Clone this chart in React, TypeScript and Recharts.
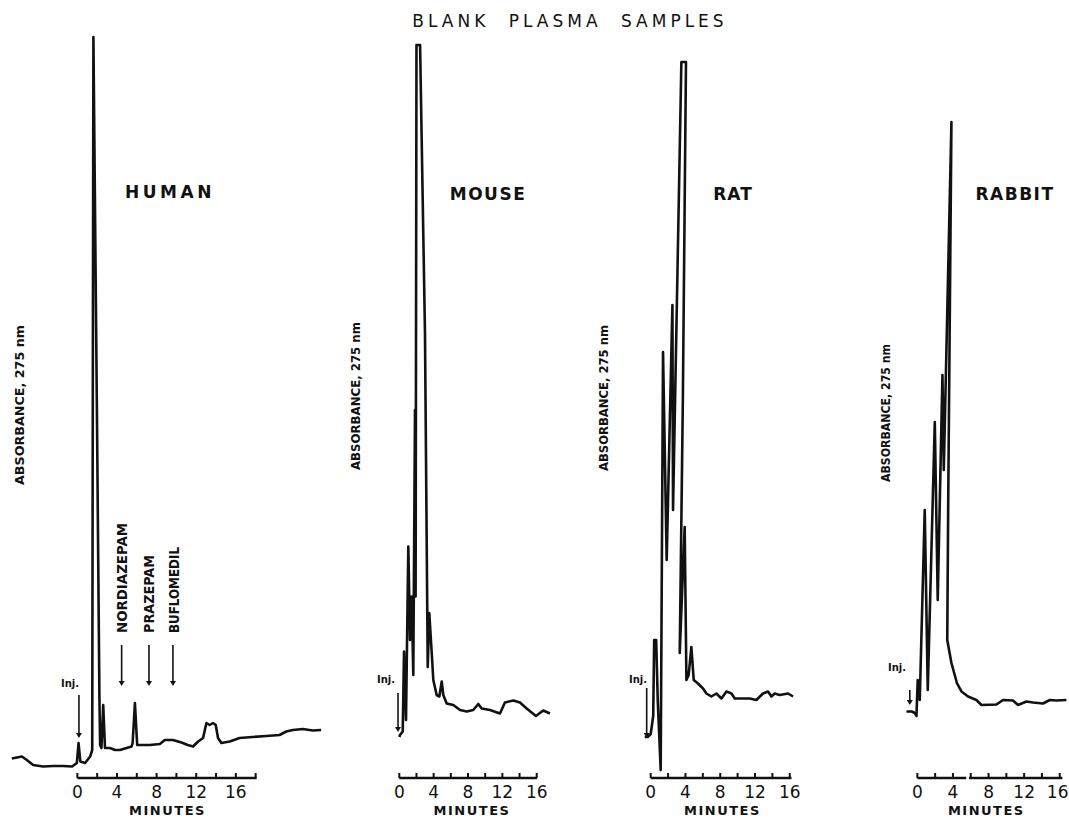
import React from 'react';
import { LineChart, Line, XAxis, YAxis, ReferenceLine, ReferenceDot } from 'recharts';

// retention time (min) and detector response (arbitrary units, 0 = time axis)
const humanMin = [-6.61, -5.6, -5.1, -4.46, -3.46, -2.45, -1.44, -0.53, -0.05, 0.12, 0.3, 0.78, 1.29, 1.5, 1.62, 1.98, 2.23, 2.3, 2.43, 2.61, 2.79, 3.29, 3.8, 4.3, 4.97, 5.48, 5.58, 5.81, 6.04, 6.31, 7.32, 8.33, 8.83, 9.64, 10.51, 11.15, 11.68, 12.19, 12.69, 13.03, 13.36, 13.7, 13.97, 14.2, 14.54, 15.38, 16.38, 17.69, 19.07, 20.41, 21.09, 21.75, 22.76, 23.77, 24.61];
const humanAbs = [3.9, 4.3, 3.6, 2.6, 2.3, 2.4, 2.4, 2.3, 3.0, 7.0, 3.3, 3.0, 4.3, 5.6, 148.2, 72.2, 15.6, 6.6, 6.0, 14.6, 6.0, 6.0, 5.6, 5.6, 6.0, 6.3, 7.0, 15.0, 6.6, 6.6, 6.6, 6.8, 7.6, 7.6, 7.1, 6.6, 6.3, 7.3, 8.0, 11.0, 10.6, 11.0, 10.6, 8.0, 7.0, 7.3, 8.0, 8.2, 8.4, 8.6, 9.3, 9.6, 9.8, 9.5, 9.6];

const mouseMin = [0.0, 0.08, 0.4, 0.55, 0.78, 1.05, 1.25, 1.44, 1.63, 1.83, 1.9, 2.0, 2.42, 2.99, 3.31, 3.49, 3.79, 3.96, 4.35, 4.66, 4.94, 5.12, 5.52, 6.29, 7.07, 7.85, 8.61, 9.2, 9.59, 10.56, 11.72, 12.3, 13.27, 14.05, 14.83, 15.91, 16.76, 17.54];
const mouseAbs = [8.2, 8.6, 9.3, 25.3, 11.6, 46.3, 27.6, 36.3, 20.6, 73.6, 36.3, 146.6, 146.6, 89.0, 22.2, 33.0, 24.6, 19.6, 16.6, 16.3, 19.3, 16.6, 14.9, 14.6, 13.6, 13.3, 13.6, 14.8, 13.9, 13.6, 12.9, 15.1, 15.5, 15.1, 13.9, 12.4, 13.5, 12.9];

const ratMin = [-0.69, -0.35, 0.0, 0.29, 0.4, 0.63, 0.81, 1.15, 1.42, 1.84, 2.5, 2.57, 3.53, 4.06, 3.7, 3.34, 3.91, 4.11, 4.37, 4.68, 4.95, 5.44, 6.02, 6.41, 6.98, 7.56, 8.14, 8.71, 9.29, 9.67, 10.24, 11.39, 12.16, 12.92, 13.5, 13.89, 14.27, 14.84, 15.8, 16.38];
const ratAbs = [8.2, 8.2, 8.8, 12.4, 27.6, 27.6, 15.6, 1.6, 85.2, 43.6, 94.6, 53.6, 143.2, 143.2, 75.6, 25.0, 50.2, 19.6, 20.6, 26.2, 19.6, 18.9, 17.9, 16.9, 16.3, 16.9, 15.9, 17.3, 16.9, 15.9, 15.9, 15.9, 15.6, 16.9, 17.3, 16.3, 16.9, 16.6, 16.9, 16.3];

const rabbitMin = [-1.22, -0.63, -0.29, -0.1, 0.04, 0.27, 0.83, 1.17, 1.96, 2.29, 2.82, 2.97, 3.83, 3.47, 3.36, 3.83, 4.2, 4.46, 4.96, 5.7, 6.64, 7.2, 8.89, 9.63, 10.75, 11.31, 12.26, 13.0, 14.12, 14.88, 15.63, 16.75];
const rabbitAbs = [13.3, 13.3, 13.0, 12.4, 19.6, 15.6, 53.6, 17.6, 71.2, 35.6, 80.6, 61.6, 131.2, 55.6, 27.6, 23.0, 20.6, 18.9, 17.3, 16.3, 15.6, 14.6, 14.7, 15.6, 15.5, 14.6, 15.3, 15.1, 14.9, 15.6, 15.5, 15.6];

const humanTicks = [0, 2, 4, 6, 8, 10, 12, 14, 16, 18];
const minuteTicks = [0, 2, 4, 6, 8, 10, 12, 14, 16];
const labelledTicks = [0, 4, 8, 12, 16];

const compounds = ['NORDIAZEPAM', 'PRAZEPAM', 'BUFLOMEDIL'];
const compoundMin = [4.47, 7.23, 9.65];

const INK = '#111';
const PLOT_TOP = 28;
const PLOT_H = 750;
const AXIS_H = 40;

const toRows = (t: number[], v: number[]) => t.map((x, i) => ({ t: x, v: v[i] }));

const MinuteTick = (props: any) => {
  const { x, y, payload, maxX } = props;
  const v = payload.value;
  // keep the last label inside the picture
  const tx = maxX !== undefined ? Math.min(x, maxX) : x;
  return (
    <g>
      <line x1={x} x2={x} y1={y} y2={y - 5} stroke={INK} strokeWidth={2} />
      {labelledTicks.includes(v) && (
        <text x={tx} y={y + 20} textAnchor="middle" fontSize={17} fontFamily="DejaVu Sans" fill={INK}>
          {v}
        </text>
      )}
    </g>
  );
};

const Head = (p: any) => (
  <path d={`M${p.cx},${p.cy + 3} L${p.cx - 3},${p.cy - 2} L${p.cx + 3},${p.cy - 2} Z`} fill={INK} />
);

type Arrow = { t: number; from: number; to: number };

type PanelProps = {
  left: number;
  width: number;
  domain: [number, number];
  rows: { t: number; v: number }[];
  ticks: number[];
  axis: [number, number][];
  arrows: Arrow[];
};

function Panel({ left, width, domain, rows, ticks, axis, arrows }: PanelProps) {
  return (
    <div style={{ position: 'absolute', left, top: PLOT_TOP, width, height: PLOT_H + AXIS_H }}>
      <LineChart width={width} height={PLOT_H + AXIS_H} data={rows} margin={{ top: 0, right: 0, bottom: 0, left: 0 }}>
        <XAxis
          type="number"
          dataKey="t"
          domain={domain}
          allowDataOverflow
          ticks={ticks}
          interval={0}
          tickSize={0}
          tickMargin={0}
          axisLine={false}
          tickLine={false}
          tick={<MinuteTick maxX={width - 11} />}
          height={AXIS_H}
          label={{
            value: 'MINUTES',
            position: 'insideBottom',
            offset: 3,
            fontSize: 13,
            fontWeight: 'bold',
            fontFamily: 'DejaVu Sans',
            fill: INK,
            letterSpacing: 1.5,
          }}
        />
        <YAxis hide type="number" domain={[0, 150]} allowDataOverflow />
        {axis.map(([a, b], i) => (
          <ReferenceLine
            key={`ax${i}`}
            segment={[{ x: a, y: 0 }, { x: b, y: 0 }]}
            stroke={INK}
            strokeWidth={2.4}
            ifOverflow="visible"
          />
        ))}
        {arrows.map((a, i) => (
          <ReferenceLine
            key={`ar${i}`}
            segment={[{ x: a.t, y: a.from }, { x: a.t, y: a.to }]}
            stroke={INK}
            strokeWidth={1.6}
            ifOverflow="visible"
          />
        ))}
        {arrows.map((a, i) => (
          <ReferenceDot key={`hd${i}`} x={a.t} y={a.to} r={3} shape={Head} ifOverflow="visible" />
        ))}
        <Line
          type="linear"
          dataKey="v"
          stroke={INK}
          strokeWidth={2.6}
          dot={false}
          isAnimationActive={false}
          strokeLinejoin="round"
        />
      </LineChart>
    </div>
  );
}

const yLabel = (cx: number, cy: number, len: number) => (
  <text
    key={`yl${cx}`}
    x={cx}
    y={cy}
    transform={`rotate(-90 ${cx} ${cy})`}
    textAnchor="middle"
    dominantBaseline="central"
    fontSize={13}
    fontWeight="bold"
    fontFamily="'DejaVu Sans Condensed', 'DejaVu Sans'"
    textLength={len}
    lengthAdjust="spacingAndGlyphs"
    fill={INK}
  >
    ABSORBANCE, 275 nm
  </text>
);

const injLabel = (cx: number, y: number) => (
  <text key={`inj${cx}`} x={cx} y={y} textAnchor="middle" fontSize={10} fontWeight="bold" fontFamily="DejaVu Sans" fill={INK}>
    Inj.
  </text>
);

export default function App() {
  const compoundX = [121.5, 149, 174];
  const compoundLen = [110, 78, 86];
  return (
    <div style={{ position: 'absolute', left: 0, top: 0, width: 1069, height: 819, background: '#fff', overflow: 'hidden' }}>
      <Panel
        left={10}
        width={315}
        domain={[-6.8, 25]}
        rows={toRows(humanMin, humanAbs)}
        ticks={humanTicks}
        axis={[[0, 18.1]]}
        arrows={[
          { t: 0.16, from: 16.6, to: 8.6 },
          ...compoundMin.map((t) => ({ t, from: 26.6, to: 19.0 })),
        ]}
      />
      <Panel
        left={392}
        width={160}
        domain={[-0.85, 17.78]}
        rows={toRows(mouseMin, mouseAbs)}
        ticks={minuteTicks}
        axis={[[0, 16.05]]}
        arrows={[{ t: -0.15, from: 17.0, to: 9.8 }]}
      />
      <Panel
        left={642.3}
        width={160.8}
        domain={[-1, 17.5]}
        rows={toRows(ratMin, ratAbs)}
        ticks={minuteTicks}
        axis={[[0, 16.2]]}
        arrows={[{ t: -0.46, from: 18.0, to: 8.6 }]}
      />
      <Panel
        left={904.25}
        width={164.65}
        domain={[-1.5, 17]}
        rows={toRows(rabbitMin, rabbitAbs)}
        ticks={minuteTicks}
        axis={[[0, 5.5], [5.8, 16.3]]}
        arrows={[{ t: -0.85, from: 17.6, to: 15.2 }]}
      />
      <svg width={1069} height={819} style={{ position: 'absolute', left: 0, top: 0, pointerEvents: 'none' }}>
        <text x={570} y={27} textAnchor="middle" fontSize={17} fontFamily="DejaVu Sans" letterSpacing={4} wordSpacing={10} fill={INK}>
          BLANK PLASMA SAMPLES
        </text>
        <text x={170} y={198} textAnchor="middle" fontSize={17} fontWeight="bold" fontFamily="DejaVu Sans" letterSpacing={3.5} fill={INK}>
          HUMAN
        </text>
        <text x={488} y={200} textAnchor="middle" fontSize={17} fontWeight="bold" fontFamily="DejaVu Sans" letterSpacing={1.5} fill={INK}>
          MOUSE
        </text>
        <text x={733} y={200} textAnchor="middle" fontSize={17} fontWeight="bold" fontFamily="DejaVu Sans" letterSpacing={1} fill={INK}>
          RAT
        </text>
        <text x={1015} y={200} textAnchor="middle" fontSize={17} fontWeight="bold" fontFamily="DejaVu Sans" letterSpacing={1.5} fill={INK}>
          RABBIT
        </text>
        {yLabel(19, 405, 160)}
        {yLabel(355, 396, 148)}
        {yLabel(603, 398, 146)}
        {yLabel(885, 413, 138)}
        {compounds.map((c, i) => (
          <text
            key={c}
            x={compoundX[i]}
            y={633}
            transform={`rotate(-90 ${compoundX[i]} 633)`}
            textAnchor="start"
            dominantBaseline="central"
            fontSize={14}
            fontWeight="bold"
            fontFamily="'DejaVu Sans Condensed', 'DejaVu Sans'"
            textLength={compoundLen[i]}
            lengthAdjust="spacingAndGlyphs"
            fill={INK}
          >
            {c}
          </text>
        ))}
        {injLabel(70, 687)}
        {injLabel(386, 683)}
        {injLabel(638, 683)}
        {injLabel(897, 671)}
      </svg>
    </div>
  );
}
